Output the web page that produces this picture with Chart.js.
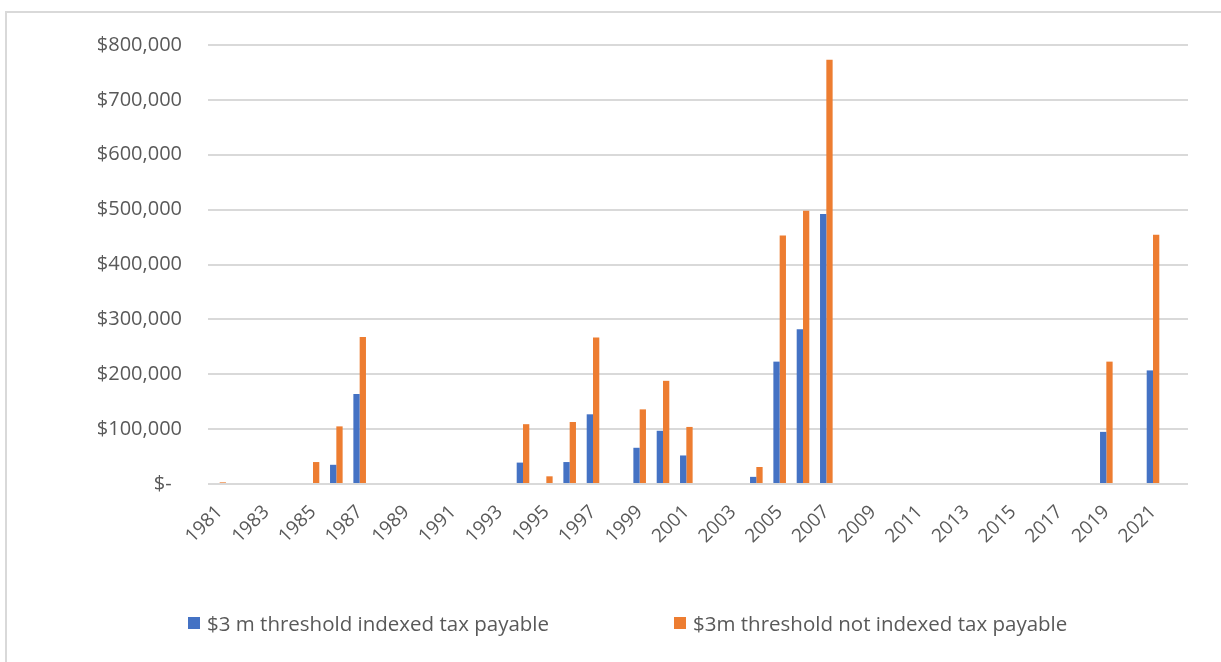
<!DOCTYPE html>
<html>
<head>
<meta charset="utf-8">
<script src="https://cdn.jsdelivr.net/npm/chart.js@4.4.1/dist/chart.umd.min.js"></script>
<style>
  html, body { margin: 0; padding: 0; background: #fff; overflow: hidden; }
  #wrap { position: relative; width: 1221px; height: 662px; }
  #frame { position: absolute; left: 5px; top: 11px; width: 1300px; height: 700px;
           border: 2px solid #d9d9d9; box-sizing: border-box; }
  #myChart { position: absolute; left: 0; top: 0; }
  #legend { position: absolute; left: 188px; top: 609px; display: flex; align-items: center;
            font-family: "Open Sans", sans-serif; font-size: 20.5px; color: #595959; }
  #legend .item { display: flex; align-items: center; margin-right: 125px; white-space: pre; }
  #legend .box { width: 12px; height: 12px; margin-right: 7px; }
</style>
</head>
<body>
<div id="wrap">
  <div id="frame"></div>
  <canvas id="myChart" width="1221" height="662"></canvas>
  <div id="legend"></div>
</div>
<script>
// years on the category axis
var years = [];
for (var y = 1981; y <= 2022; y++) years.push(String(y));

// tax payable, $3 m threshold indexed
var indexedTax = [
  0, 0, 0, 0, 0, 35000, 164000, 0, 0, 0,
  0, 0, 0, 39000, 0, 40000, 127000, 0, 66000, 97000,
  52000, 0, 0, 13000, 223000, 282000, 492000, 0, 0, 0,
  0, 0, 0, 0, 0, 0, 0, 0, 95000, 0,
  207000, 0
];

// tax payable, $3m threshold not indexed
var notIndexedTax = [
  3000, 0, 0, 0, 40000, 105000, 268000, 0, 0, 0,
  0, 0, 0, 109000, 14000, 113000, 267000, 0, 136000, 188000,
  104000, 0, 0, 31000, 453000, 498000, 773000, 0, 0, 0,
  0, 0, 0, 0, 0, 0, 0, 0, 223000, 0,
  454000, 0
];

var seriesNames = ['$3 m threshold indexed tax payable', '$3m threshold not indexed tax payable'];
var yTicks = [0, 100000, 200000, 300000, 400000, 500000, 600000, 700000, 800000];

var grey = '#595959';
var ctx = document.getElementById('myChart').getContext('2d');
var chart = new Chart(ctx, {
  type: 'bar',
  data: {
    labels: years,
    datasets: [{
      label: seriesNames[0],
      backgroundColor: '#4472C4',
      data: indexedTax
    },
    {
      label: seriesNames[1],
      backgroundColor: '#ED7D31',
      data: notIndexedTax
    }]
  },
  options: {
    responsive: false,
    animation: false,
    devicePixelRatio: 1,
    layout: { padding: { left: 88, right: 33, top: 45, bottom: 98 } },
    datasets: { bar: { categoryPercentage: 0.54, barPercentage: 1, borderWidth: 0 } },
    plugins: { legend: { display: false }, tooltip: { enabled: false } },
    scales: {
      x: {
        grid: { display: false },
        border: { display: false },
        afterFit: function(s) { s.height = 80; },
        ticks: {
          autoSkip: false,
          maxRotation: 45,
          minRotation: 45,
          padding: 9,
          color: grey,
          font: { family: 'Open Sans', size: 19 },
          callback: function(v, i) { return i % 2 === 0 ? years[i] : ''; }
        }
      },
      y: {
        min: 0,
        max: 800000,
        afterFit: function(s) { s.width = 120; },
        afterBuildTicks: function(s) { s.ticks = yTicks.map(function(v) { return { value: v }; }); },
        grid: { color: '#d9d9d9', lineWidth: 2, drawTicks: false },
        border: { display: false },
        ticks: {
          padding: 26,
          color: grey,
          font: { family: 'Open Sans', size: 20 },
          callback: function(v) {
            if (v === 0) return '$-  ';
            return '$' + v.toLocaleString('en-US');
          }
        }
      }
    }
  }
});

// legend built from the chart's datasets
var legend = document.getElementById('legend');
chart.data.datasets.forEach(function(ds) {
  var item = document.createElement('div');
  item.className = 'item';
  var box = document.createElement('span');
  box.className = 'box';
  box.style.background = ds.backgroundColor;
  var txt = document.createElement('span');
  txt.textContent = ds.label;
  item.appendChild(box);
  item.appendChild(txt);
  legend.appendChild(item);
});
</script>
</body>
</html>
